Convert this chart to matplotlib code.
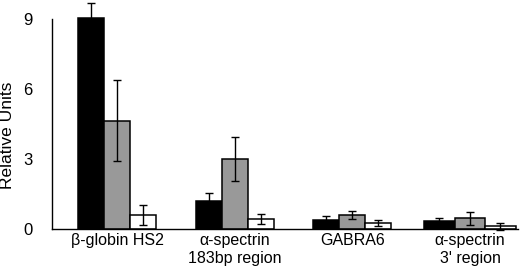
import matplotlib
matplotlib.use("Agg")
import matplotlib.pyplot as plt
import numpy as np

plt.rcParams['font.family'] = ['Liberation Sans', 'DejaVu Sans']

categories = ["β-globin HS2", "α-spectrin\n183bp region", "GABRA6", "α-spectrin\n3' region"]
series1 = [9.05, 1.21, 0.40, 0.37]
series1_err = [0.62, 0.36, 0.17, 0.10]
series2 = [4.64, 3.00, 0.61, 0.47]
series2_err = [1.72, 0.93, 0.16, 0.27]
series3 = [0.61, 0.44, 0.26, 0.14]
series3_err = [0.43, 0.22, 0.14, 0.15]
yticks = [0, 3, 6, 9]

fig = plt.figure(figsize=(5.2, 2.78), dpi=100)
W, H = 520, 278
ax = fig.add_axes([52 / W, (H - 229.3) / H, (518 - 52) / W, 229.3 / H])

x = np.arange(len(categories))
# bar widths (group 4 slightly wider in the reference)
widths = np.array([0.221, 0.221, 0.221, 0.26])
colors = ['black', '#999999', 'white']
datasets = [(series1, series1_err), (series2, series2_err), (series3, series3_err)]
for i, (vals, errs) in enumerate(datasets):
    pos = x + (i - 1) * widths
    ax.bar(pos, vals, width=widths, color=colors[i], edgecolor='black',
           linewidth=1.1, clip_on=False, zorder=2)
    ax.errorbar(pos, vals, yerr=errs, fmt='none', ecolor='black', elinewidth=1.0,
                capsize=3, capthick=1.0, clip_on=False, zorder=3)

ax.set_xlim(-0.557, 3.409)
ax.set_ylim(0, 9.8)
ax.spines['top'].set_visible(False)
ax.spines['right'].set_visible(False)
ax.spines['left'].set_bounds(0, 9)
ax.spines['left'].set_linewidth(1.0)
ax.spines['bottom'].set_linewidth(1.0)
ax.set_yticks(yticks)
ax.set_yticklabels([str(t) for t in yticks], fontsize=12)
ax.tick_params(axis='y', length=0, pad=14)
ax.set_xticks(x)
ax.set_xticklabels(categories, fontsize=11.5, linespacing=1.2)
ax.tick_params(axis='x', length=0, pad=3)
ax.set_ylabel("Relative Units", fontsize=12.5)
ax.yaxis.set_label_coords(-0.079, 0.41)

fig.savefig("out.png", dpi=100)
